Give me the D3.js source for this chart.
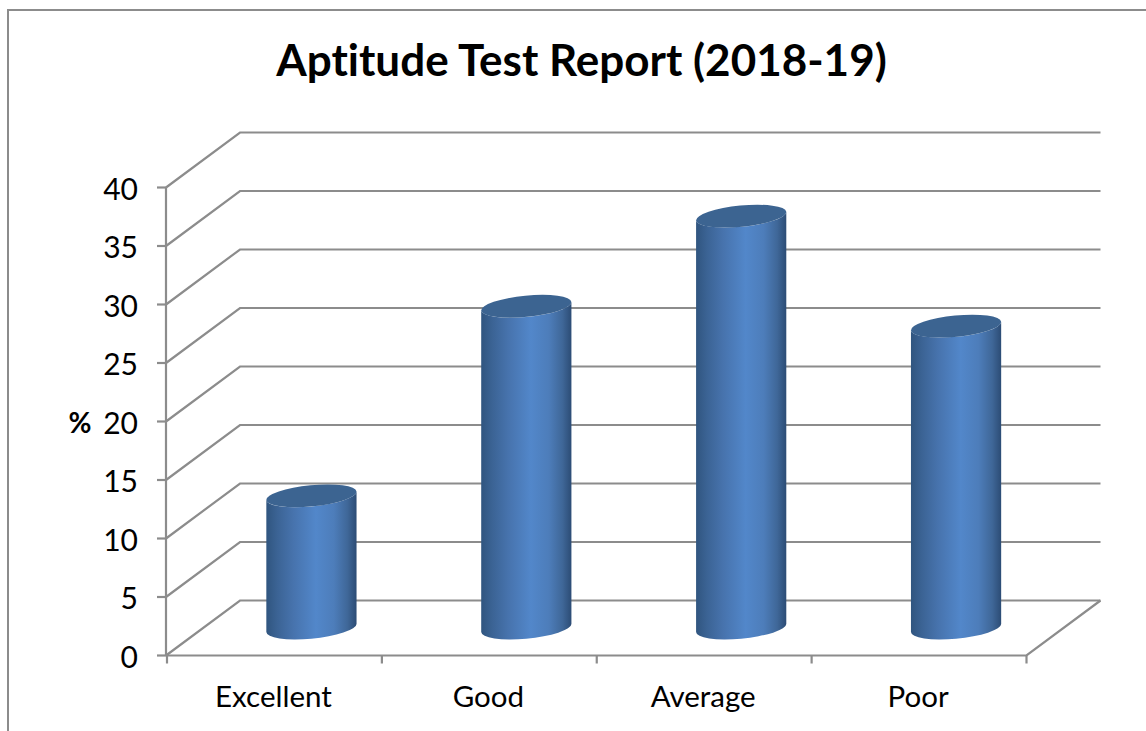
<!DOCTYPE html>
<html><head><meta charset="utf-8">
<style>html,body{margin:0;padding:0;background:#fff}svg{display:block}text{font-family:Lato,"Open Sans",sans-serif;fill:#000;font-variant-ligatures:none}</style>
<script src="https://cdn.jsdelivr.net/npm/d3@7/dist/d3.min.js"></script>
</head><body><svg id="c" width="1146" height="731"></svg>
<script>
const categories = ["Excellent","Good","Average","Poor"];
const values = [11.3,27.5,35.2,25.8];
const yTicks = [0,5,10,15,20,25,30,35,40];
const titleText = "Aptitude Test Report (2018-19)";
const yLabel = "%";

const W=1146,H=731, grid="#8c8c8c";
const svg=d3.select("#c");
const x=d3.scaleBand().domain(categories).range([167,1026.5]);
const y=d3.scaleLinear().domain([0,40]).range([655.5,187.5]);
const depth={dx:74,dy:-55};

const grad=svg.append("defs").append("linearGradient").attr("id","cyl");
[[0,"#30557f"],[0.12,"#3b6394"],[0.3,"#4773ad"],[0.55,"#5287ca"],[0.75,"#4d7dba"],[0.9,"#3f6798"],[1,"#2c4c75"]]
 .forEach(s=>grad.append("stop").attr("offset",s[0]).attr("stop-color",s[1]));

// frame
svg.append("path").attr("d",`M8 ${H}V10H${W}`).attr("fill","none").attr("stroke",grid).attr("stroke-width",2);

// back wall gridlines and left wall diagonals
const g=svg.append("g").attr("fill","none").attr("stroke",grid).attr("stroke-width",2.2);
const x0=x.range()[0]-1, x1=x.range()[1];
yTicks.forEach(t=>{
  const yy=y(t);
  const xr = x1+depth.dx;
  g.append("path").attr("d",`M${x0} ${yy}L${x0+depth.dx} ${yy+depth.dy}H${xr}`);
  g.append("line").attr("x1",x0-9).attr("x2",x0).attr("y1",yy).attr("y2",yy);
});
g.append("line").attr("x1",x0).attr("x2",x0).attr("y1",y(0)).attr("y2",y(40));
g.append("path").attr("d",`M${x0} ${y(0)}H${x1}L${x1+depth.dx} ${y(0)+depth.dy}`);
[...categories.map(c=>x(c)),x1].forEach(v=>{
  g.append("line").attr("x1",v).attr("x2",v).attr("y1",y(0)).attr("y2",y(0)+8);
});

// cylinders
const rx=45.3, ry=10.6, rotDeg=-5.5, rot=rotDeg*Math.PI/180;
const tExt=Math.atan2(-ry*Math.sin(rot),rx*Math.cos(rot));
const ex=rx*Math.cos(tExt)*Math.cos(rot)-ry*Math.sin(tExt)*Math.sin(rot);
const ey=rx*Math.cos(tExt)*Math.sin(rot)+ry*Math.sin(tExt)*Math.cos(rot);
const bars=svg.append("g");
categories.forEach((c,i)=>{
  const cx=x(c)+x.bandwidth()/2+depth.dx/2;
  const yb=y(0)+depth.dy/2;
  const yt=y(values[i])+depth.dy/2;
  bars.append("path")
    .attr("d",`M${cx-ex} ${yt-ey}L${cx-ex} ${yb-ey}A${rx} ${ry} ${rotDeg} 0 0 ${cx+ex} ${yb+ey}L${cx+ex} ${yt+ey}A${rx} ${ry} ${rotDeg} 0 1 ${cx-ex} ${yt-ey}Z`)
    .attr("fill","url(#cyl)");
  bars.append("ellipse").attr("cx",cx).attr("cy",yt).attr("rx",rx).attr("ry",ry)
    .attr("transform",`rotate(${rotDeg} ${cx} ${yt})`).attr("fill","#3c6491");
});

// text
svg.append("text").attr("x",581.5).attr("y",76).attr("text-anchor","middle")
  .attr("font-size",44).attr("font-weight",700).text(titleText);
yTicks.forEach(t=>{
  svg.append("text").attr("x",138).attr("y",y(t)+12).attr("text-anchor","end").attr("font-size",30).text(t);
});
svg.append("text").attr("x",80).attr("y",433).attr("text-anchor","middle").attr("font-size",28).attr("font-weight",700).text(yLabel);
categories.forEach(c=>{
  svg.append("text").attr("x",x(c)+x.bandwidth()/2-1).attr("y",707).attr("text-anchor","middle").attr("font-size",29.5).text(c);
});
</script></body></html>
